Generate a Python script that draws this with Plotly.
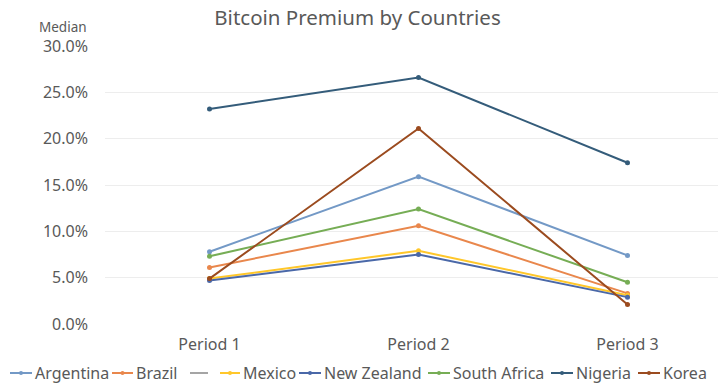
import plotly.graph_objects as go

periods = ["Period 1", "Period 2", "Period 3"]
series_names = ["Argentina", "Brazil", "", "Mexico", "New Zealand", "South Africa", "Nigeria", "Korea"]
argentina = [7.8, 15.9, 7.4]
brazil = [6.1, 10.6, 3.3]
blank = [None, None, None]
mexico = [4.9, 7.9, 3.1]
new_zealand = [4.7, 7.5, 2.9]
south_africa = [7.3, 12.4, 4.5]
nigeria = [23.2, 26.6, 17.4]
korea = [4.9, 21.1, 2.1]
y_ticks = [0, 5, 10, 15, 20, 25, 30]

values = [argentina, brazil, blank, mexico, new_zealand, south_africa, nigeria, korea]
colors = ["#7399C6", "#E9874C", "#A5A5A5", "#FFC72A", "#4A68A8", "#76AD55", "#345C7A", "#9B4B1F"]

W, H = 718, 386
L, R, T, B = 105, 0, 46, 62
PW, PH = W - L - R, H - T - B


def px2x(px):
    return (px - L) / PW


def py2y(py):
    return (H - B - py) / PH


font_family = "Noto Sans, Open Sans, sans-serif"
txt_color = "#595959"
fig = go.Figure()
for name, vals, col in zip(series_names, values, colors):
    fig.add_trace(go.Scatter(
        x=[0, 1, 2], y=vals, name=name, mode="lines+markers",
        line=dict(color=col, width=2),
        marker=dict(color=col, size=5),
        showlegend=False,
    ))

fig.update_layout(
    width=W, height=H,
    margin=dict(l=L, r=R, t=T, b=B, autoexpand=False),
    paper_bgcolor="white", plot_bgcolor="white",
    font=dict(family=font_family, color=txt_color, size=16),
    title=dict(text="Bitcoin Premium by Countries", x=px2x(357.5), xref="paper",
               xanchor="center", y=1 - 18 / H, yanchor="middle",
               font=dict(size=20.5, color=txt_color)),
    showlegend=False,
    xaxis=dict(range=[-0.5, 2.433], tickvals=[0, 1, 2], ticktext=periods,
               showgrid=False, zeroline=False, showline=False, ticks="",
               ticklabelstandoff=9, tickfont=dict(size=16, color=txt_color)),
    yaxis=dict(range=[0, 30], tickvals=y_ticks,
               ticktext=[f"{v:.1f}%" for v in y_ticks],
               showgrid=True, gridcolor="#EDEDED", gridwidth=1, zeroline=False,
               showline=False, ticks="", ticklabelstandoff=16,
               tickfont=dict(size=16, color=txt_color)),
)
fig.add_annotation(text="Median", xref="paper", yref="paper", x=px2x(63), y=py2y(27),
                   xanchor="center", yanchor="middle", showarrow=False,
                   font=dict(size=13.5, color=txt_color))

# custom legend (Excel-style compact legend)
legend_line_start = [10, 112, 190, 220, 299, 428, 551, 638]
legend_line_len = [22, 21, 18, 20, 22, 22, 22, 22]
ly = py2y(373)
for name, col, x0, ln in zip(series_names, colors, legend_line_start, legend_line_len):
    fig.add_shape(type="line", xref="paper", yref="paper",
                  x0=px2x(x0), x1=px2x(x0 + ln), y0=ly, y1=ly,
                  line=dict(color=col, width=2))
    if name:
        cx = x0 + ln / 2
        fig.add_shape(type="circle", xref="paper", yref="paper",
                      x0=px2x(cx - 2), x1=px2x(cx + 2), y0=py2y(375), y1=py2y(371),
                      fillcolor=col, line=dict(color=col, width=0))
        fig.add_annotation(text=name, xref="paper", yref="paper",
                           x=px2x(x0 + ln + 1), y=ly, xanchor="left", yanchor="middle",
                           showarrow=False, font=dict(size=16, color=txt_color))

fig.write_html("out.html")
